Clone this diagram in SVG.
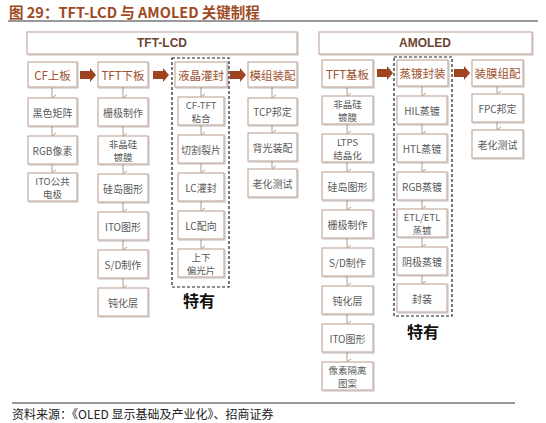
<svg xmlns="http://www.w3.org/2000/svg" width="546" height="423" viewBox="0 0 546 423">
<defs>
<style>
.bx{fill:#fff;stroke:#c3ada0;stroke-width:1.2;filter:url(#sh)}
.hd{font-family:"Noto Sans CJK SC","Liberation Sans",sans-serif;font-size:11.5px;fill:#a0522d;text-anchor:middle;dominant-baseline:central}
.sb{font-family:"Noto Sans CJK SC","Liberation Sans",sans-serif;font-size:10px;fill:#5a5a5a;text-anchor:middle;dominant-baseline:central}
.s2{font-family:"Noto Sans CJK SC","Liberation Sans",sans-serif;font-size:9.5px;fill:#5a5a5a;text-anchor:middle;dominant-baseline:central}
.top{font-family:"Liberation Sans","Noto Sans CJK SC",sans-serif;font-size:12px;font-weight:bold;fill:#6b4530;text-anchor:middle;dominant-baseline:central}
.dash{fill:none;stroke:#222;stroke-width:1.2;stroke-dasharray:3,2}
.ty{font-family:"Noto Sans CJK SC",sans-serif;font-size:16px;font-weight:bold;fill:#111;text-anchor:middle;dominant-baseline:central}
.va{stroke:#b39b8e;stroke-width:1;fill:none;marker-end:url(#ah)}
.ba{fill:#9e4420}
</style>
<filter id="sh" x="-10%" y="-10%" width="130%" height="140%"><feDropShadow dx="1" dy="1" stdDeviation="0.7" flood-color="#000" flood-opacity="0.22"/></filter>
<marker id="ah" viewBox="0 0 8 8" refX="4" refY="7" markerWidth="8" markerHeight="8" markerUnits="userSpaceOnUse" orient="auto-start-reverse"><path d="M1,3 L4,7 L7,3" fill="none" stroke="#b39b8e" stroke-width="1"/></marker>
<path id="bigarr" d="M0,-4 H10 V-7 L16,0 L10,7 V4 H0 Z"/>
</defs>
<rect width="546" height="423" fill="#fff"/>
<g id="title">
<text x="9" y="11" font-family="Noto Sans CJK SC,Liberation Sans,sans-serif" font-size="14.5" font-weight="bold" fill="#a04a24" dominant-baseline="central">图 29：TFT-LCD 与 AMOLED 关键制程</text>
<line x1="8" y1="21" x2="538" y2="21" stroke="#333" stroke-width="1"/>
</g>
<g id="tftlcd-header"><rect class="bx" x="27" y="32" width="270" height="22"/><text class="top" x="162" y="43">TFT-LCD</text></g>
<g id="amoled-header"><rect class="bx" x="319" y="32" width="213" height="22"/><text class="top" x="425" y="43">AMOLED</text></g>

<g id="connectors">
<use href="#bigarr" class="ba" x="80" y="75"/>
<use href="#bigarr" class="ba" x="153" y="75"/>
<use href="#bigarr" class="ba" x="230" y="75"/>
<use href="#bigarr" class="ba" x="377" y="73"/>
<use href="#bigarr" class="ba" x="454" y="73"/>
<line class="va" x1="52" y1="87" x2="52" y2="98"/>
<line class="va" x1="52" y1="126" x2="52" y2="136"/>
<line class="va" x1="52" y1="164" x2="52" y2="173"/>
<line class="va" x1="123" y1="87" x2="123" y2="98"/>
<line class="va" x1="123" y1="126" x2="123" y2="136"/>
<line class="va" x1="123" y1="164" x2="123" y2="174"/>
<line class="va" x1="123" y1="202" x2="123" y2="212"/>
<line class="va" x1="123" y1="240" x2="123" y2="250"/>
<line class="va" x1="123" y1="278" x2="123" y2="288"/>
<line class="va" x1="201" y1="87" x2="201" y2="97"/>
<line class="va" x1="201" y1="125" x2="201" y2="135"/>
<line class="va" x1="201" y1="163" x2="201" y2="173"/>
<line class="va" x1="201" y1="201" x2="201" y2="211"/>
<line class="va" x1="201" y1="239" x2="201" y2="249"/>
<line class="va" x1="272" y1="87" x2="272" y2="98"/>
<line class="va" x1="272" y1="125" x2="272" y2="133"/>
<line class="va" x1="272" y1="161" x2="272" y2="169"/>
<line class="va" x1="347" y1="87" x2="347" y2="96"/>
<line class="va" x1="347" y1="124" x2="347" y2="134"/>
<line class="va" x1="347" y1="162" x2="347" y2="172"/>
<line class="va" x1="347" y1="200" x2="347" y2="210"/>
<line class="va" x1="347" y1="238" x2="347" y2="248"/>
<line class="va" x1="347" y1="276" x2="347" y2="286"/>
<line class="va" x1="347" y1="314" x2="347" y2="324"/>
<line class="va" x1="347" y1="352" x2="347" y2="362"/>
<line class="va" x1="422" y1="86" x2="422" y2="96"/>
<line class="va" x1="422" y1="124" x2="422" y2="134"/>
<line class="va" x1="422" y1="162" x2="422" y2="172"/>
<line class="va" x1="422" y1="200" x2="422" y2="209"/>
<line class="va" x1="422" y1="237" x2="422" y2="247"/>
<line class="va" x1="422" y1="275" x2="422" y2="284"/>
<line class="va" x1="497" y1="86" x2="497" y2="94"/>
<line class="va" x1="497" y1="122" x2="497" y2="130"/>
</g>

<g id="lcd-col1">
<g id="cf"><rect class="bx" x="28" y="62" width="49" height="25"/><text class="hd" x="52.5" y="74.5">CF上板</text></g>
<g id="hsjz"><rect class="bx" x="28" y="98" width="49" height="28"/><text class="sb" x="52.5" y="112">黑色矩阵</text></g>
<g id="rgbxs"><rect class="bx" x="28" y="136" width="49" height="28"/><text class="sb" x="52.5" y="150">RGB像素</text></g>
<g id="itogg"><rect class="bx" x="28" y="173" width="49" height="28"/><text class="s2" x="52.5" y="180.5">ITO公共</text><text class="s2" x="52.5" y="193.5">电极</text></g>
</g>
<g id="lcd-col2">
<g id="tftxb"><rect class="bx" x="98" y="62" width="50" height="25"/><text class="hd" x="123" y="74.5">TFT下板</text></g>
<g id="sjzz"><rect class="bx" x="98" y="98" width="50" height="28"/><text class="sb" x="123" y="112">栅极制作</text></g>
<g id="fjgdm"><rect class="bx" x="98" y="136" width="50" height="28"/><text class="s2" x="123" y="143.5">非晶硅</text><text class="s2" x="123" y="156.5">镀膜</text></g>
<g id="gdtx"><rect class="bx" x="98" y="174" width="50" height="28"/><text class="sb" x="123" y="188">硅岛图形</text></g>
<g id="itotx"><rect class="bx" x="98" y="212" width="50" height="28"/><text class="sb" x="123" y="226">ITO图形</text></g>
<g id="sdzz"><rect class="bx" x="98" y="250" width="50" height="28"/><text class="sb" x="123" y="264">S/D制作</text></g>
<g id="dhc"><rect class="bx" x="98" y="288" width="50" height="28"/><text class="sb" x="123" y="302">钝化层</text></g>
</g>
<g id="lcd-col3">
<rect class="dash" x="172" y="58" width="57" height="229"/>
<g id="yjgf"><rect class="bx" x="175" y="62" width="52" height="25"/><text class="hd" x="201" y="74.5">液晶灌封</text></g>
<g id="cftft"><rect class="bx" x="178" y="97" width="46" height="28"/><text class="s2" x="201" y="104.5">CF-TFT</text><text class="s2" x="201" y="117.5">粘合</text></g>
<g id="qglp"><rect class="bx" x="178" y="135" width="46" height="28"/><text class="sb" x="201" y="149">切割裂片</text></g>
<g id="lcgf"><rect class="bx" x="178" y="173" width="46" height="28"/><text class="sb" x="201" y="187">LC灌封</text></g>
<g id="lcpx"><rect class="bx" x="178" y="211" width="46" height="28"/><text class="sb" x="201" y="225">LC配向</text></g>
<g id="sxpgp"><rect class="bx" x="178" y="249" width="46" height="28"/><text class="s2" x="201" y="256.5">上下</text><text class="s2" x="201" y="269.5">偏光片</text></g>
<text class="ty" x="199" y="300">特有</text>
</g>
<g id="lcd-col4">
<g id="mzzp"><rect class="bx" x="248" y="62" width="49" height="25"/><text class="hd" x="272.5" y="74.5">模组装配</text></g>
<g id="tcp"><rect class="bx" x="248" y="98" width="49" height="27"/><text class="sb" x="272.5" y="111.5">TCP邦定</text></g>
<g id="bgzp"><rect class="bx" x="248" y="133" width="49" height="28"/><text class="sb" x="272.5" y="147">背光装配</text></g>
<g id="lhcs1"><rect class="bx" x="248" y="169" width="49" height="28"/><text class="sb" x="272.5" y="183">老化测试</text></g>
</g>

<g id="am-col1">
<g id="tftjb"><rect class="bx" x="322" y="60" width="51" height="27"/><text class="hd" x="347.5" y="73.5">TFT基板</text></g>
<g id="fjg2"><rect class="bx" x="322" y="96" width="51" height="28"/><text class="s2" x="347.5" y="103.5">非晶硅</text><text class="s2" x="347.5" y="116.5">镀膜</text></g>
<g id="ltps"><rect class="bx" x="322" y="134" width="51" height="28"/><text class="s2" x="347.5" y="141.5">LTPS</text><text class="s2" x="347.5" y="154.5">结晶化</text></g>
<g id="gd2"><rect class="bx" x="322" y="172" width="51" height="28"/><text class="sb" x="347.5" y="186">硅岛图形</text></g>
<g id="sj2"><rect class="bx" x="322" y="210" width="51" height="28"/><text class="sb" x="347.5" y="224">栅极制作</text></g>
<g id="sd2"><rect class="bx" x="322" y="248" width="51" height="28"/><text class="sb" x="347.5" y="262">S/D制作</text></g>
<g id="dh2"><rect class="bx" x="322" y="286" width="51" height="28"/><text class="sb" x="347.5" y="300">钝化层</text></g>
<g id="ito2"><rect class="bx" x="322" y="324" width="51" height="28"/><text class="sb" x="347.5" y="338">ITO图形</text></g>
<g id="xsgl"><rect class="bx" x="322" y="362" width="51" height="28"/><text class="s2" x="347.5" y="369.5">像素隔离</text><text class="s2" x="347.5" y="382.5">图案</text></g>
</g>
<g id="am-col2">
<rect class="dash" x="394" y="57" width="58" height="259"/>
<g id="zdfz"><rect class="bx" x="397" y="60" width="51" height="26"/><text class="hd" x="422.5" y="73">蒸镀封装</text></g>
<g id="hil"><rect class="bx" x="397" y="96" width="50" height="28"/><text class="sb" x="422" y="110">HIL蒸镀</text></g>
<g id="htl"><rect class="bx" x="397" y="134" width="50" height="28"/><text class="sb" x="422" y="148">HTL蒸镀</text></g>
<g id="rgbzd"><rect class="bx" x="397" y="172" width="50" height="28"/><text class="sb" x="422" y="186">RGB蒸镀</text></g>
<g id="etl"><rect class="bx" x="397" y="209" width="50" height="28"/><text class="s2" x="422" y="216.5">ETL/ETL</text><text class="s2" x="422" y="229.5">蒸镀</text></g>
<g id="yjzd"><rect class="bx" x="397" y="247" width="50" height="28"/><text class="sb" x="422" y="261">阴极蒸镀</text></g>
<g id="fz"><rect class="bx" x="397" y="284" width="50" height="28"/><text class="sb" x="422" y="298">封装</text></g>
<text class="ty" x="423" y="331">特有</text>
</g>
<g id="am-col3">
<g id="zmzp"><rect class="bx" x="472" y="60" width="51" height="26"/><text class="hd" x="497.5" y="73">装膜组配</text></g>
<g id="fpc"><rect class="bx" x="472" y="94" width="51" height="28"/><text class="sb" x="497.5" y="108">FPC邦定</text></g>
<g id="lhcs2"><rect class="bx" x="472" y="130" width="51" height="28"/><text class="sb" x="497.5" y="144">老化测试</text></g>
</g>

<g id="footer">
<line x1="12" y1="403" x2="515" y2="403" stroke="#333" stroke-width="1"/>
<text x="12" y="413" font-family="Noto Sans CJK SC,Liberation Sans,sans-serif" font-size="12" fill="#222" dominant-baseline="central">资料来源：《OLED 显示基础及产业化》、招商证券</text>
</g>
</svg>
